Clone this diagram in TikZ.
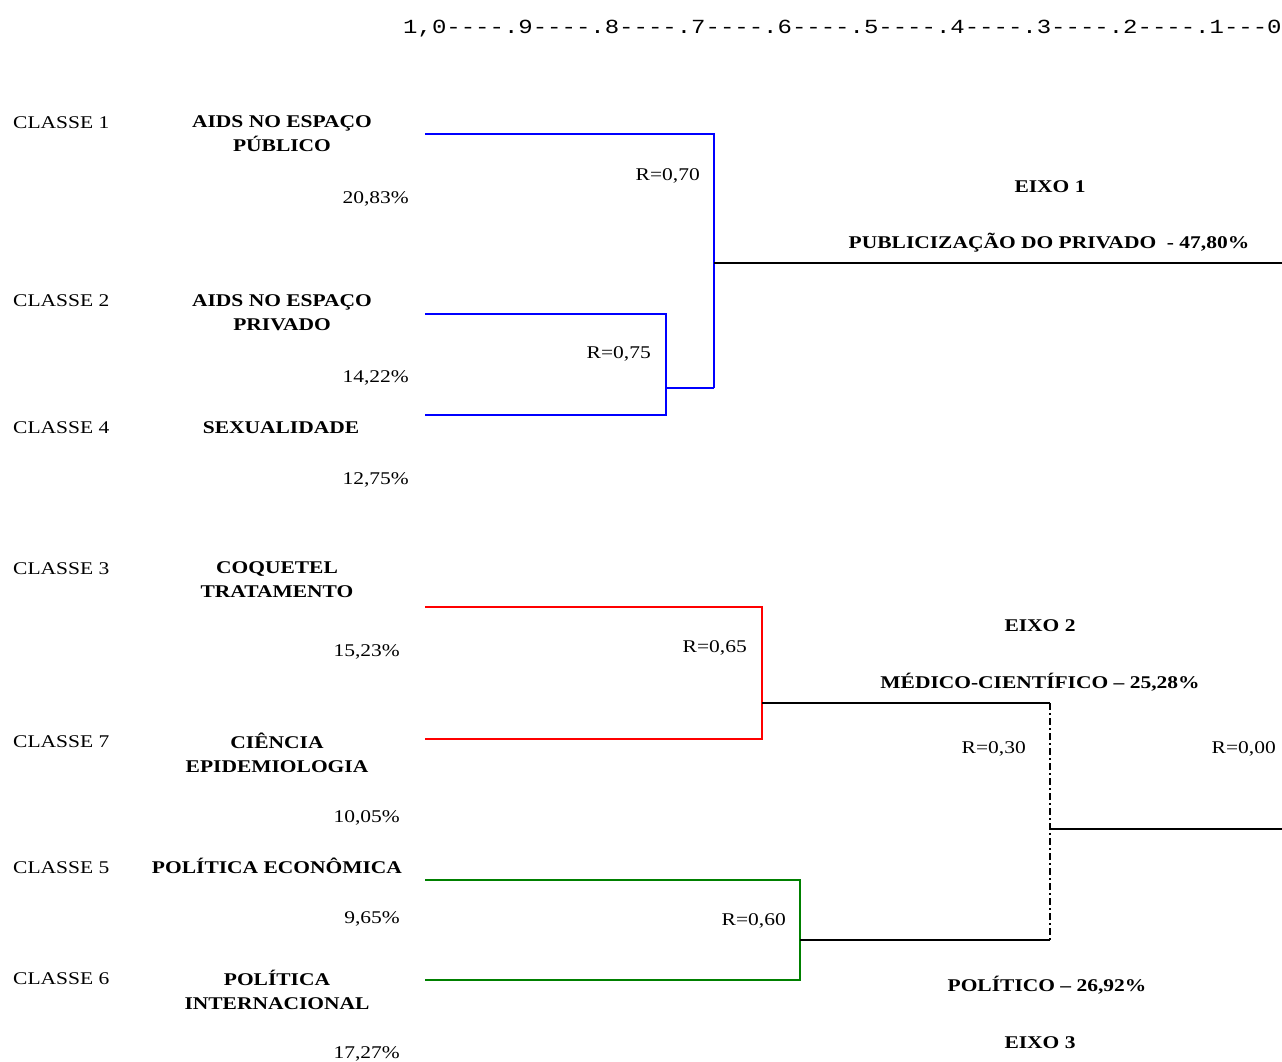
\documentclass[tikz,border=0pt]{standalone}
\usepackage{fontspec}
\setmainfont{Liberation Serif}
\setmonofont{Liberation Mono}
\usetikzlibrary{positioning}
\definecolor{cBlue}{RGB}{0,0,255}
\definecolor{cRed}{RGB}{255,0,0}
\definecolor{cGreen}{RGB}{0,128,0}
\tikzset{
  txt/.style={font=\fontsize{17.9}{24}\selectfont, inner sep=0pt, xscale=1.2},
  line1/.style={txt, text height=12pt, text depth=0pt},
  classe/.style={line1, anchor=west},
  pct/.style={line1, anchor=east},
  rlab/.style={line1, anchor=east},
  titulo/.style={txt, font=\fontsize{17.9}{24}\selectfont\bfseries, align=center},
  titulo1/.style={line1, font=\fontsize{17.9}{24}\selectfont\bfseries},
  eixo/.style={line1, font=\fontsize{17.9}{24}\selectfont\bfseries},
  escala/.style={font=\ttfamily\fontsize{20}{24}\selectfont, inner sep=0pt,
                 xscale=1.2, anchor=west, text height=12pt, text depth=0pt},
  ramo/.style={line width=1.5pt, #1},
  tronco/.style={line width=2pt, black},
  tracoponto/.style={line width=2pt, black,
                     dash pattern=on 7pt off 3pt on 2pt off 3pt},
}

\begin{document}
\begin{tikzpicture}[x=1pt, y=-1pt]

  \useasboundingbox (0,0) rectangle (1282,1061);

  % Scale
  \node[escala] (esc) at (403,27) {1,0----.9----.8----.7----.6----.5----.4----.3----.2----.1---0};

  % Classes
  \node[classe] (c1) at (13,122) {CLASSE 1};
  \node[classe] (c2) at (13,300) {CLASSE 2};
  \node[classe] (c4) at (13,427) {CLASSE 4};
  \node[classe] (c3) at (13,568) {CLASSE 3};
  \node[classe] (c7) at (13,741) {CLASSE 7};
  \node[classe] (c5) at (13,867) {CLASSE 5};
  \node[classe] (c6) at (13,978) {CLASSE 6};

  % Titles
  \node[titulo] (t1) at (282,134) {AIDS NO ESPAÇO\\PÚBLICO};
  \node[titulo] (t2) at (282,313) {AIDS NO ESPAÇO\\PRIVADO};
  \node[titulo1] (t4) at (281,427) {SEXUALIDADE};
  \node[titulo] (t3) at (277,580) {COQUETEL\\TRATAMENTO};
  \node[titulo] (t7) at (277,753) {CIÊNCIA\\EPIDEMIOLOGIA};
  \node[titulo1] (t5) at (277,867) {POLÍTICA ECONÔMICA};
  \node[titulo] (t6) at (277,990) {POLÍTICA\\INTERNACIONAL};

  % Percentages
  \node[pct] (p1) at (409,197) {20,83\%};
  \node[pct] (p2) at (409,376) {14,22\%};
  \node[pct] (p4) at (409,478) {12,75\%};
  \node[pct] (p3) at (400,650) {15,23\%};
  \node[pct] (p7) at (400,816) {10,05\%};
  \node[pct] (p5) at (400,917) {9,65\%};
  \node[pct] (p6) at (400,1052) {17,27\%};

  % Leaves and junctions
  \coordinate (l1) at (425,134);
  \coordinate (l2) at (425,314);
  \coordinate (l4) at (425,415);
  \coordinate (l3) at (425,607);
  \coordinate (l7) at (425,739);
  \coordinate (l5) at (425,880);
  \coordinate (l6) at (425,980);
  \coordinate (j24) at (666,388);
  \coordinate (j1) at (714,263);
  \coordinate (j37) at (762,703);
  \coordinate (j56) at (800,940);
  \coordinate (j23) at (1050,829);
  \coordinate (e1) at (1282,263);
  \coordinate (e0) at (1282,829);

  % Eixo 1
  \draw[ramo=cBlue] (l2) -| (j24 |- l4) -- (l4);
  \draw[ramo=cBlue] (j24) -- (j1 |- j24);
  \draw[ramo=cBlue] (l1) -| (j1 |- j24);
  \draw[tronco] (j1) -- (e1);

  % Eixo 2
  \draw[ramo=cRed] (l3) -| (j37 |- l7) -- (l7);
  \draw[tronco] (j37) -- (j23 |- j37);

  % Eixo 3
  \draw[ramo=cGreen] (l5) -| (j56 |- l6) -- (l6);
  \draw[tronco] (j56) -- (j23 |- j56);

  \draw[tracoponto] (j23 |- j37) -- (j23 |- j56);
  \draw[tronco] (j23) -- (e0);

  % R labels
  \node[rlab] (r70) at (700,174) {R=0,70};
  \node[rlab] (r75) at (651,352) {R=0,75};
  \node[rlab] (r65) at (747,646) {R=0,65};
  \node[rlab] (r30) at (1026,747) {R=0,30};
  \node[rlab] (r00) at (1276,747) {R=0,00};
  \node[rlab] (r60) at (786,919) {R=0,60};

  % Axes
  \node[eixo] (x1) at (1050,186) {EIXO 1};
  \node[eixo] (x1p) at (1049,242) {PUBLICIZAÇÃO DO PRIVADO\ \ - 47,80\%};
  \node[eixo] (x2) at (1040,625) {EIXO 2};
  \node[eixo] (x2p) at (1040,682) {MÉDICO-CIENTÍFICO -- 25,28\%};
  \node[eixo] (x3p) at (1047,985) {POLÍTICO -- 26,92\%};
  \node[eixo] (x3) at (1040,1042) {EIXO 3};

\end{tikzpicture}
\end{document}
